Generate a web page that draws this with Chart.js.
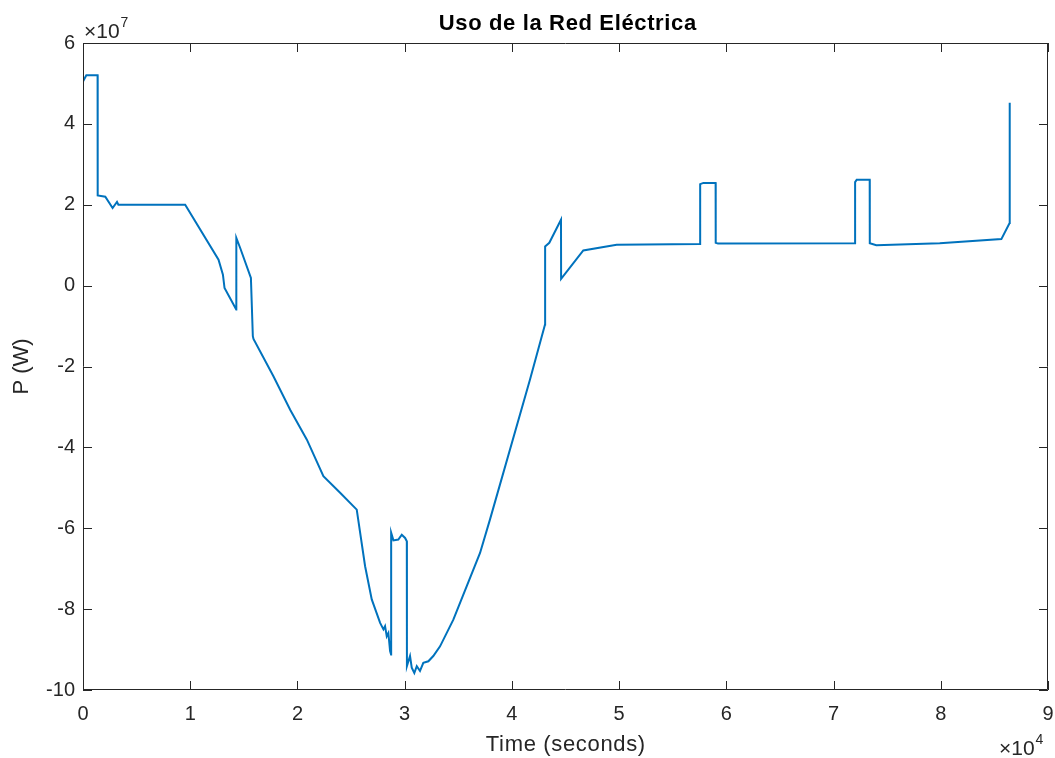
<!DOCTYPE html>
<html>
<head>
<meta charset="utf-8">
<script src="https://cdn.jsdelivr.net/npm/chart.js@4/dist/chart.umd.min.js"></script>
<style>
  html, body { margin: 0; padding: 0; background: #fff; }
  #wrap { width: 1055px; height: 758px; position: relative; }
</style>
</head>
<body>
<div id="wrap"><canvas id="gridChart"></canvas></div>
<script>
// Time (s) and grid power (x 1e7 W)
const timeSec = [
  0, 310, 1360, 1370, 2080, 2760, 3170, 3300, 9530,
  12640, 13050, 13200, 14290, 14300, 14660, 15660, 15840, 15900,
  17760, 19320, 20880, 22420, 23980, 25530, 26310, 26930, 27710,
  28020, 28170, 28330, 28480, 28640, 28730, 28740, 28950, 29410,
  29730, 30040, 30200, 30210, 30500, 30660, 30900, 31130, 31430,
  31740, 32210, 32670, 33300, 34540, 35790, 37030, 37960, 41690,
  43090, 43100, 43490, 44580, 44590, 46660, 49770, 57550, 57560,
  57860, 59000, 59010, 59220, 72000, 72010, 72160, 72470, 73370,
  73380, 73990, 79900, 85650, 86420, 86430
];
const powerE7 = [
  5.05, 5.2, 5.2, 2.23, 2.2, 1.92, 2.07, 2.0, 2.0,
  0.64, 0.27, -0.06, -0.59, 1.18, 0.93, 0.19, -1.25, -1.32,
  -2.24, -3.07, -3.81, -4.71, -5.12, -5.54, -6.94, -7.76, -8.34,
  -8.50, -8.42, -8.67, -8.59, -9.04, -9.12, -6.11, -6.30, -6.28,
  -6.16, -6.24, -6.32, -9.41, -9.16, -9.45, -9.58, -9.41, -9.53,
  -9.33, -9.29, -9.16, -8.92, -8.26, -7.43, -6.61, -5.78, -2.32,
  -0.96, 0.97, 1.06, 1.63, 0.17, 0.87, 1.01, 1.03, 2.51,
  2.54, 2.54, 1.06, 1.04, 1.05, 2.56, 2.62, 2.62, 2.62,
  1.05, 1.0, 1.05, 1.15, 1.55, 4.52
];
const xTicks = [0, 10000, 20000, 30000, 40000, 50000, 60000, 70000, 80000, 90000];
const yTicks = [-1e8, -8e7, -6e7, -4e7, -2e7, 0, 2e7, 4e7, 6e7];

const titleText = 'Uso de la Red Eléctrica';
const xLabel = 'Time (seconds)';
const yLabel = 'P (W)';

const axisColor = '#262626';
const fontFamily = '"Liberation Sans", Arial, sans-serif';

const points = timeSec.map((t, i) => ({ x: t, y: powerE7[i] * 1e7 }));

// draw text stretched with letter spacing so it covers a given width
function spacedText(ctx, text, cx, cy, width) {
  ctx.letterSpacing = '0px';
  const w0 = ctx.measureText(text).width;
  const sp = Math.max(0, (width - w0) / text.length);
  ctx.letterSpacing = sp + 'px';
  ctx.fillText(text, cx + sp / 2, cy);
  ctx.letterSpacing = '0px';
}

// MATLAB-style box, inward ticks, labels and exponent markers
const matlabFrame = {
  id: 'matlabFrame',
  afterDraw(chart) {
    const ctx = chart.ctx;
    const a = chart.chartArea;
    const xs = chart.scales.x;
    const ys = chart.scales.y;
    const tl = 9;
    ctx.save();
    ctx.strokeStyle = axisColor;
    ctx.lineWidth = 1;
    ctx.beginPath();
    ctx.rect(a.left + 0.5, a.top + 0.5, a.right - a.left - 1, a.bottom - a.top - 1);
    xTicks.forEach(v => {
      const px = Math.round(xs.getPixelForValue(v)) + 0.5;
      ctx.moveTo(px, a.bottom); ctx.lineTo(px, a.bottom - tl);
      ctx.moveTo(px, a.top); ctx.lineTo(px, a.top + tl);
    });
    yTicks.forEach(v => {
      const py = Math.round(ys.getPixelForValue(v)) + 0.5;
      ctx.moveTo(a.left, py); ctx.lineTo(a.left + tl, py);
      ctx.moveTo(a.right, py); ctx.lineTo(a.right - tl, py);
    });
    ctx.stroke();

    const cx = (a.left + a.right) / 2;
    ctx.fillStyle = '#000';
    ctx.textAlign = 'center';
    ctx.textBaseline = 'middle';
    ctx.font = 'bold 22px ' + fontFamily;
    spacedText(ctx, titleText, cx + 2, 24, 258);

    ctx.fillStyle = axisColor;
    ctx.font = '22px ' + fontFamily;
    spacedText(ctx, xLabel, cx, 745, 160);
    ctx.save();
    ctx.translate(22, (a.top + a.bottom) / 2);
    ctx.rotate(-Math.PI / 2);
    ctx.fillText(yLabel, 0, 0);
    ctx.restore();

    // exponent markers
    ctx.textAlign = 'left';
    ctx.textBaseline = 'alphabetic';
    ctx.font = '21px ' + fontFamily;
    let w = ctx.measureText('\u00d710').width;
    ctx.fillText('\u00d710', a.left + 1, 38);
    ctx.font = '14px ' + fontFamily;
    ctx.fillText('7', a.left + 2 + w, 27);
    ctx.font = '21px ' + fontFamily;
    ctx.fillText('\u00d710', a.right - 49, 755);
    ctx.font = '14px ' + fontFamily;
    ctx.fillText('4', a.right - 48 + w, 744);
    ctx.restore();
  }
};

const gridCtx = document.getElementById('gridChart');
if (gridCtx) {
  window.gridChart = new Chart(gridCtx, {
    type: 'line',
    data: {
      datasets: [{
        label: 'P',
        data: points,
        borderColor: '#0072BD',
        borderWidth: 2,
        pointRadius: 0,
        tension: 0,
        fill: false
      }]
    },
    options: {
      responsive: true,
      maintainAspectRatio: false,
      animation: false,
      layout: {
        padding: { top: 43, right: 7, left: 0, bottom: 0 }
      },
      scales: {
        x: {
          type: 'linear',
          min: 0,
          max: 90000,
          afterFit: function(scale) {
            scale.height = 68;
            scale.paddingLeft = 0;
            scale.paddingRight = 0;
          },
          afterBuildTicks: function(scale) { scale.ticks = xTicks.map(v => ({ value: v })); },
          grid: { display: false, drawTicks: false },
          border: { display: false },
          ticks: {
            color: axisColor,
            padding: 12,
            maxRotation: 0,
            font: { family: fontFamily, size: 20 },
            callback: function(v) { return String(v / 1e4); }
          }
        },
        y: {
          min: -1e8,
          max: 6e7,
          afterFit: function(scale) {
            scale.width = 83;
            scale.paddingTop = 0;
            scale.paddingBottom = 0;
          },
          afterBuildTicks: function(scale) { scale.ticks = yTicks.map(v => ({ value: v })); },
          grid: { display: false, drawTicks: false },
          border: { display: false },
          ticks: {
            color: axisColor,
            padding: 8,
            font: { family: fontFamily, size: 20 },
            callback: function(v) { return String(Math.round(v / 1e7)); }
          }
        }
      },
      plugins: {
        legend: { display: false },
        tooltip: { enabled: false }
      }
    },
    plugins: [matlabFrame]
  });
}
</script>
</body>
</html>
